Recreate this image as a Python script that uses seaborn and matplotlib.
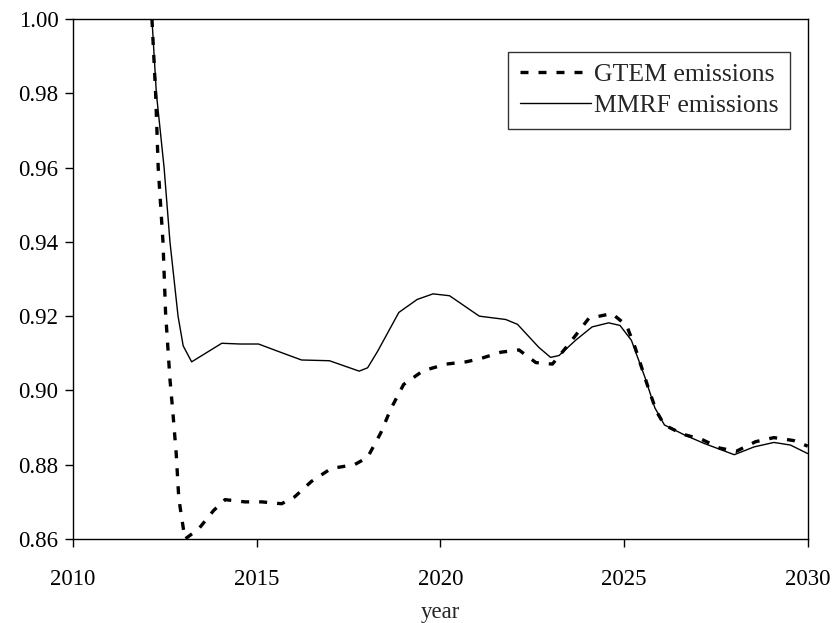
import matplotlib
matplotlib.use("Agg")
import matplotlib.pyplot as plt
import seaborn as sns
import pandas as pd

# Emissions relative to reference (index), by year
gtem_year = [2012.15, 2012.25, 2012.32, 2012.45, 2012.52, 2012.64, 2012.72, 2012.81,
             2012.88, 2012.97, 2013.05, 2013.42, 2013.83, 2014.14, 2014.68, 2015.14,
             2015.68, 2016.04, 2016.49, 2017.03, 2017.66, 2018.02, 2018.38, 2018.65,
             2019.0, 2019.53, 2020.16, 2020.7, 2021.1, 2021.65, 2022.14, 2022.6,
             2023.05, 2023.5, 2024.04, 2024.67, 2025.07, 2025.3, 2025.66, 2025.88,
             2026.1, 2026.6, 2027.1, 2027.6, 2028.05, 2028.58, 2029.08, 2029.62, 2030.0]
gtem_value = [1.000, 0.980, 0.960, 0.940, 0.921, 0.903, 0.894, 0.883,
              0.871, 0.865, 0.860, 0.8627, 0.8677, 0.8706, 0.8700, 0.8700,
              0.8695, 0.8714, 0.8755, 0.8790, 0.8800, 0.8820, 0.8886, 0.8950,
              0.9016, 0.9053, 0.9071, 0.9077, 0.9086, 0.9103, 0.9109, 0.9075,
              0.9071, 0.9125, 0.9194, 0.9207, 0.9175, 0.9116, 0.9007, 0.8944,
              0.8907, 0.8882, 0.8869, 0.8845, 0.8836, 0.8862, 0.8873, 0.8865, 0.8850]

mmrf_year = [2012.15, 2012.27, 2012.48, 2012.64, 2012.75, 2012.86, 2013.0, 2013.23,
             2014.05, 2014.55, 2015.05, 2015.59, 2016.22, 2016.98, 2017.79, 2018.02,
             2018.29, 2018.87, 2019.37, 2019.8, 2020.25, 2021.06, 2021.78, 2022.1,
             2022.68, 2023.0, 2023.23, 2023.68, 2024.13, 2024.58, 2024.89, 2025.2,
             2025.57, 2025.84, 2026.1, 2026.65, 2027.19, 2028.0, 2028.54, 2029.08,
             2029.53, 2030.0]
mmrf_value = [1.000, 0.980, 0.960, 0.940, 0.930, 0.920, 0.912, 0.9077,
              0.9127, 0.9125, 0.9125, 0.9105, 0.9082, 0.9080, 0.9052, 0.9061,
              0.9105, 0.9210, 0.9245, 0.9260, 0.9255, 0.9200, 0.9191, 0.9178,
              0.9116, 0.9089, 0.9094, 0.9135, 0.9171, 0.9182, 0.9175, 0.9135,
              0.9035, 0.8953, 0.8907, 0.8880, 0.8857, 0.8827, 0.8848, 0.8860,
              0.8853, 0.8830]

x_ticks = [2010, 2015, 2020, 2025, 2030]
y_ticks = [0.86, 0.88, 0.90, 0.92, 0.94, 0.96, 0.98, 1.00]

sns.set_theme(style="ticks")
plt.rcParams["font.family"] = ["Liberation Serif", "DejaVu Serif"]

gtem = pd.DataFrame({"year": gtem_year, "value": gtem_value})
mmrf = pd.DataFrame({"year": mmrf_year, "value": mmrf_value})

fig = plt.figure(figsize=(8.34, 6.23), dpi=100)
ax = fig.add_axes([0.0875, 0.1348, 0.881, 0.8347])

sns.lineplot(data=gtem, x="year", y="value", ax=ax, color="black",
             linewidth=2.4, dashes=False, label="GTEM emissions",
             sort=False, estimator=None)
sns.lineplot(data=mmrf, x="year", y="value", ax=ax, color="black",
             linewidth=1.0, label="MMRF emissions", sort=False, estimator=None)
ax.lines[0].set_dashes([2.4, 3.0])

ax.set_xlim(2010, 2030)
ax.set_ylim(0.86, 1.00)
ax.set_xticks(x_ticks)
ax.set_yticks(y_ticks)
ax.set_yticklabels([f"{v:.2f}" for v in y_ticks])
ax.tick_params(axis="both", direction="out", length=5.5, width=1, labelsize=16.5,
               colors="black", pad=5)
ax.tick_params(axis="x", pad=16)
ax.set_xlabel("year", fontsize=16.5, labelpad=9)
ax.set_ylabel("")
for s in ax.spines.values():
    s.set_visible(True)
    s.set_color("black")
    s.set_linewidth(1.0)

leg = ax.legend(loc="upper right", bbox_to_anchor=(0.976, 0.937), fontsize=18.5,
                frameon=True, fancybox=False, edgecolor="black",
                handlelength=2.8, handletextpad=0.1, borderpad=0.45,
                labelspacing=0.3, borderaxespad=0)
leg.get_frame().set_linewidth(1.0)
for h in leg.get_lines():
    if h.get_label() == "GTEM emissions":
        h.set_dashes([2.4, 3.0])

fig.savefig("out.png", dpi=100, facecolor="white")
